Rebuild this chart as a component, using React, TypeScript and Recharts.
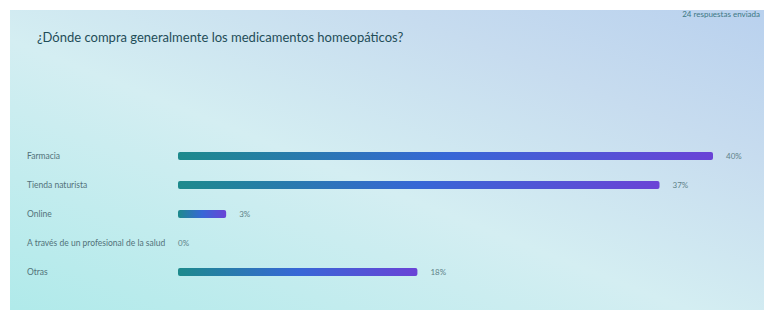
import React from 'react';
import { BarChart, Bar, XAxis, YAxis } from 'recharts';

const categories = ['Farmacia', 'Tienda naturista', 'Online', 'A través de un profesional de la salud', 'Otras'];
const values = [40, 36, 3.6, 0, 17.9];
const valueLabels = ['40%', '37%', '3%', '0%', '18%'];

const data = categories.map((name, i) => ({ name, value: values[i], label: valueLabels[i] }));

const FONT = 'Lato, "Noto Sans", sans-serif';

const CategoryTick = ({ y, payload }: any) => (
  <text x={27} y={y} dy={3} textAnchor="start" fontSize={8.5} fill="#52727a" fontFamily={FONT}>
    {payload.value}
  </text>
);

// bar + its percentage label, so the 0% row still gets its text
const BarWithLabel = (props: any) => {
  const { x, y, width, height, payload } = props;
  const w = Math.max(0, width || 0);
  const hasBar = payload.value > 0 && w > 0;
  return (
    <g>
      {hasBar && <rect x={x} y={y} width={w} height={height} rx={2} ry={2} fill="url(#barGrad)" />}
      <text x={x + w + (hasBar ? 13 : 0)} y={y + height / 2} dy={3} fontSize={8} fill="#5f8288" fontFamily={FONT}>
        {payload.label}
      </text>
    </g>
  );
};

export default function App() {
  return (
    <div style={{ position: 'absolute', left: 0, top: 0, width: 764, height: 310, background: '#fff' }}>
      <div
        style={{
          position: 'absolute',
          left: 10,
          top: 10,
          width: 754,
          height: 300,
          background: 'linear-gradient(to top right, #b0eaea 0%, #d4eef2 45%, #c7dcef 75%, #b9d1ee 100%)',
        }}
      />
      <div style={{ position: 'absolute', right: 4, top: 9, fontSize: 8, color: '#3d7884', fontFamily: FONT }}>
        24 respuestas enviada
      </div>
      <div style={{ position: 'absolute', left: 37, top: 29, fontSize: 13, color: '#1f4d58', fontFamily: FONT }}>
        ¿Dónde compra generalmente los medicamentos homeopáticos?
      </div>
      <div style={{ position: 'absolute', left: 0, top: 0 }}>
        <BarChart
          width={764}
          height={310}
          data={data}
          layout="vertical"
          margin={{ top: 141, right: 51, bottom: 24, left: 0 }}
          barCategoryGap={0}
        >
          <defs>
            <linearGradient id="barGrad" x1="0" y1="0" x2="1" y2="0">
              <stop offset="0%" stopColor="#1d8a8c" />
              <stop offset="50%" stopColor="#3767d6" />
              <stop offset="100%" stopColor="#6a43d6" />
            </linearGradient>
          </defs>
          <XAxis type="number" domain={[0, 40]} hide />
          <YAxis
            type="category"
            dataKey="name"
            width={178}
            axisLine={false}
            tickLine={false}
            tick={<CategoryTick />}
            interval={0}
          />
          <Bar dataKey="value" barSize={8} shape={<BarWithLabel />} isAnimationActive={false} />
        </BarChart>
      </div>
    </div>
  );
}
